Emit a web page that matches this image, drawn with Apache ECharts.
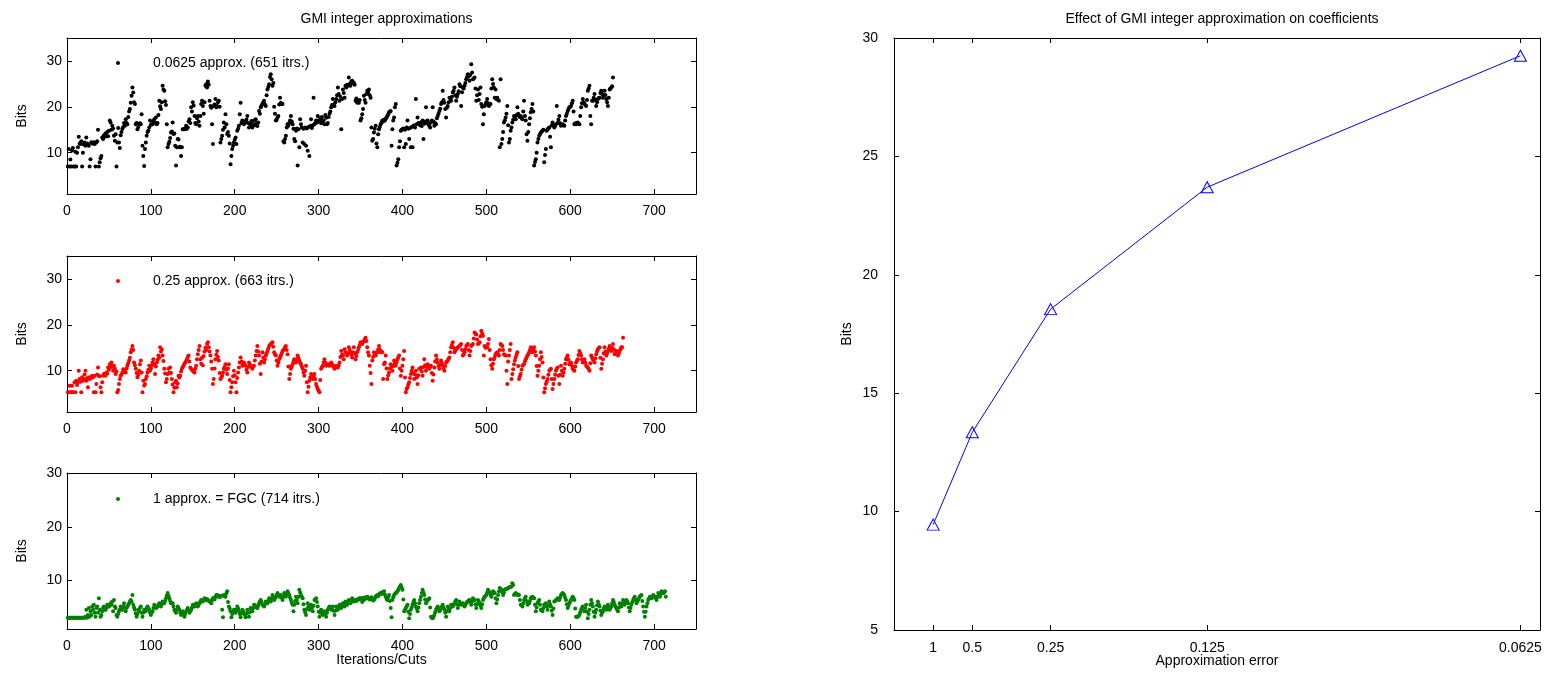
<!DOCTYPE html>
<html>
<head>
<meta charset="utf-8">
<script src="https://cdn.jsdelivr.net/npm/echarts@6/dist/echarts.min.js"></script>
<style>
html,body{margin:0;padding:0;background:#fff;}
#chart{width:1557px;height:687px;}
</style>
</head>
<body>
<div id="chart"></div>
<script>
// ---------------- data ----------------
const leftXTicks = [0,100,200,300,400,500,600,700];
const leftYTicks = [10,20,30];
const rightXPos = [1,2,4,8,16];
const rightXLabels = ['1','0.5','0.25','0.125','0.0625'];
const rightBits = [9.45,13.35,18.55,23.7,29.25];

const name0625 = '0.0625 approx. (651 itrs.)';
const name025 = '0.25 approx. (663 itrs.)';
const name1 = '1 approx. = FGC (714 itrs.)';

const bits0625 = [
7,10.8,7,8.5,7,10.5,11,7,7,10.2,
7,10,11.2,13.5,12,11.9,12.5,7,10,11.8,
12.2,11.5,13.3,12,11.8,11.5,7,8.6,12.3,12,
12,12.3,11.9,7,12.2,12.5,15,7,7.9,8.8,
9.3,13.3,13,13.8,13.5,14.2,13.6,14.5,13.6,14.8,
17,16.6,15,15.9,15.3,13.7,12.6,14,7,12.2,
15.4,12.2,11,13.8,14.5,15.2,15.6,16.5,15.9,17.3,
16.5,16.2,17.8,19,19.5,20.9,22.4,24.2,23.1,21,
20.6,16.2,16.5,15.1,15.6,16.2,16.4,16.2,18.4,11.5,
9.3,7.1,10.8,12.2,13.7,14.5,14.8,15.5,17,16.1,
16.2,16.2,16.8,17.3,16.6,17.7,16.2,16.5,18.2,21.3,
20.1,19.5,21,24.6,23.8,23.5,21.2,20.4,16.2,11.2,
11.9,12.4,13.2,14.4,14.6,16.6,14.1,14.2,11.5,7.2,
11.2,13,12.9,11.2,11.3,9.3,11.2,15.1,15.1,15.2,
15.1,15.9,15.2,15.5,16.8,17.3,16.5,19.9,19,21,
20.3,18,16.5,16.2,17.5,18,16.8,15.9,18,20.6,
21.3,20.2,18.5,21,24.6,24.9,24.2,25.5,24.8,21.3,
20.2,19.8,16.2,11.9,20.2,20.5,21.7,19.9,20.2,21,
21.3,20,12.2,13,13.7,15,16.6,15.5,18.4,16.2,
14.1,14.5,13.7,12,7.5,9.3,10.8,11.5,12.2,12.8,
13.3,11.9,14.8,15.2,15.9,18.4,20.9,16.5,17,16.4,
16.2,16.8,16.6,17.2,18,16.5,15.5,16.3,15.8,16.9,
15.5,16.2,17,16,17.3,16.4,15.8,16.6,19.1,18.5,
19.9,20.3,20.6,21,21.3,20.5,20.2,22.5,23.8,24.3,
24.9,26.5,27.1,26,24.6,25.2,20,18.5,17,17.2,
17.7,18,20.5,22,20.9,20.6,20.6,12.5,12.2,13,
13.7,15.5,16.2,15.9,16.5,17,18,16.8,16.2,15.2,
13,12.5,14.8,15.3,7.2,15.1,11.2,17.3,16.2,15.5,
12.2,15.2,11.9,15.5,11.5,15.3,10.4,15.6,9.3,15.8,
17.3,15.4,16,22,16.2,16.5,17,16.6,18,16.8,
17.2,17.5,16.4,17.8,16.9,17,16.2,18.2,17.6,16.2,
16.5,17.8,18.5,19,19.9,20.4,21.7,20.5,20.2,21,
21.7,22.5,24.2,22.8,21.3,22.2,15.1,21.7,23.8,23,
22,24.6,24.2,24.8,24.6,26.4,25,24.6,25.5,25.7,
25.2,25.3,24.8,21.3,21.8,20.9,21.2,20.9,21.5,17,
17.5,18.4,19.5,22.4,21.5,20.9,22.8,23.5,23.2,23.8,
22.5,22,15.5,12.6,13,14.4,15.2,15.9,12,11.2,
14,15.1,15.6,16.2,16.6,17,16.8,17.2,17,17.4,
17.6,18,18.4,18.8,19,19.1,11.5,15.1,17,17.7,
19.9,20.6,7.2,7.8,8.6,11.2,12.5,14.8,15,15.1,
15.3,11.2,15,11.9,15.5,17,15.2,13,15.4,11.2,
15.6,11.2,15.8,16,15.5,21.7,16.2,17.7,16.5,16.2,
16,16.6,15.8,17,13,16.3,16.8,19.9,16.5,17,
16.2,15.8,15.5,16.6,17,19.9,16.8,15.9,16.5,16.2,
17.5,18,18.5,19.1,19.6,20.6,21,23.5,21.5,20.9,
19.5,17.7,19.8,20.2,21,22,21.8,21.3,22.2,23.1,
23.5,24.2,22.5,21.3,22.2,22.8,23.4,24.9,24.5,20.2,
23.2,24.2,24,24.6,25.2,26,26.5,27.1,26.6,25.7,
27,29.3,27.5,26,26.2,26.4,24,21.3,22.5,23.8,
21.5,22.8,24.2,20.6,20,16.2,18.4,20.2,20.5,21,
21.7,20.8,20.2,20.5,20.6,24,26,25,24.2,22,
23.8,21.7,22,21.5,21.3,11.2,26,11.9,13,14.5,
16.6,17,17.7,18.5,20.2,16,12.2,13,14.8,15.5,
16.6,17.2,18,17.6,17.3,18.2,19.9,18.5,18,17.8,
18,17.6,17.3,19,21.3,18,17,14,12.6,14.5,
16.2,17.5,18.8,19.5,20.6,19,7.2,8,8.6,10,
12.2,13,13.7,14,14.4,14.6,14.8,15,7.9,9.5,
10.8,14.8,15.1,15.3,15.5,13.5,11.2,16,16.6,16,
15.5,15.8,16.2,20.2,16.5,17.2,18,16.4,15.9,16,
16.2,16,15.9,17,18,18.5,19.1,19.5,19.9,20,
20.2,20.8,21.3,19,16.2,16.4,16.2,16.5,16.6,16.3,
16.2,18,19.9,20.8,21.7,21,20.6,20.4,20.2,21.5,
23.5,24,24.6,18,16.2,21.3,21.3,22,22.8,21.5,
20.2,21,21.7,21.9,22,23,23.5,22.8,22,22.5,
23.5,22.6,21.7,21,20.2,22,23.8,24,24.2,24.5,
26.4
];

const bits025 = [
5.3,5.3,6.7,5.3,5.3,6.7,5.3,5.3,7.5,5.3,
7.8,6.9,7.5,10,8.2,7.6,5.3,8.6,7.8,8.2,
9.2,10,7.8,8.4,6.4,8.2,8.6,8.3,8.6,8.9,
8.5,5.3,8.9,5.3,7.1,9.2,10.7,8.9,8.8,6.4,
5.3,7.5,8.9,9.3,9.1,8.9,9.6,9.4,10.7,10.2,
11.4,10.8,11.8,10.9,10,11.1,10.5,9.3,9.8,5.3,
5.8,7.1,8.2,8.9,9.2,9.6,10.3,10,9.8,9.6,
10.5,11.1,11.6,12.2,12.8,14,14.6,15.4,14.5,11.8,
11.2,10.4,9.5,8.6,9.2,10,11.4,12.2,9.6,5.3,
7.8,6.8,7.1,8.2,8.8,9.6,10.2,11.1,10,10.5,
11.1,11.8,12.5,11.4,9.3,10.9,11.8,12.4,13.3,12.8,
15.1,14.2,14.7,13.3,12.1,10.4,9.4,7.5,8.2,9.3,
10.4,9.6,10.7,9.5,8.2,7,5.3,6.3,7.5,7.8,
6.4,7.2,8.9,8.5,8.9,9.8,10.4,10.8,11.1,11.5,
11.8,12.1,12.5,13,13.3,12,10.7,10.4,10.2,10,
9.8,9.6,10.4,11.1,12.5,13.6,14.5,15.4,12.5,11.5,
12.8,11.2,13.2,14.2,15,14.5,15.8,16.2,15.1,14.2,
13.3,12,10.4,7.1,8.2,10.5,12.5,13.5,14.3,13,
12.2,9.5,8.2,8.5,8.9,9.6,10.4,10.8,11.4,10.2,
9.3,10.5,11.4,8,5.3,6.4,7.5,8.8,10,9,
7.5,5.3,8.4,9.6,10.7,11.8,12.9,12,11.1,11.5,
11.8,11.3,11.1,10.2,9.6,10.8,11.8,11.4,11.1,10.8,
10.4,10.9,11.1,12.2,13.3,14.3,15.4,14.2,13.3,11.5,
9.3,12,14,12.8,11.8,12.5,13.3,13.8,14.3,14.8,
15.4,15.6,15.8,16,16.2,15.2,14,13.6,13.3,12.2,
11.1,11.8,12.5,12.9,13.3,13.8,14.3,14.5,14.7,15.1,
15.4,14.5,13.6,10.9,8.2,9.3,10.4,10.9,11.4,12,
12.5,12.2,11.8,12.5,13.3,12.8,12.2,11.8,11.4,10.9,
10.4,9.6,8.9,10,11.1,7.5,5.3,6.5,7.8,8.5,
9.3,8.8,8.2,8.8,9.3,8.2,7.1,6.5,6,5.7,
5.3,8,10.4,10.8,11.1,11.8,12.5,11.8,11.1,11.2,
11.4,11.2,11.1,11.5,11.8,11.4,11.1,10.8,10.4,10.8,
11.1,10.9,10.7,11.2,11.8,13,14.3,13.5,13.3,12.5,
14.7,14,13.8,13.3,13.8,15.1,14.5,14,13.5,12.9,
14,15.1,13.8,12.5,13.2,14,14.5,15.1,15.6,16.2,
15.9,15.8,16.2,16.5,16.8,17.2,16.5,15.1,14,13.3,
11.1,9.5,7.1,12.2,13,14,13.6,13.3,13.8,14,
14.6,15.4,14.6,14,14.2,14,8.2,11.4,11.8,13.3,
10.5,8.2,9,9.6,10.5,11.4,10.8,10,11,12.2,
11.6,11.1,11.8,12.5,12.9,13.3,10.5,8.9,10,11.1,
12.5,14.3,8.5,5.3,6,6.4,7,7.5,8.4,9.3,
10,10.7,9.4,8.2,9.2,10,8.5,7.1,9,10.4,
10.5,10.7,9.8,8.9,10.8,12.5,11.2,10,10.8,11.4,
10.9,10.4,10.8,11.1,9.5,7.8,9.2,10.7,12,13.3,
12.5,11.8,11,10.4,11.3,12.2,11.6,11.1,10.5,10,
11,11.8,12,12.2,12.6,12.9,14,15.1,15.6,16.2,
15,14,14.4,14.7,14.9,15.1,15.2,15.4,15.6,15.8,
14.5,13.3,13.6,14,14.7,15.4,15.6,15.8,14.5,13.3,
14.3,15.4,15.6,15.8,17,18.3,18,17.9,16.8,15.8,
16,16.2,17.5,18.7,18.1,17.6,13.3,15.4,15,15.1,
15.1,15.8,16.9,14.5,12.5,11.2,10.4,11.5,12.5,13,
13.6,13.8,14,13.6,13.3,14.5,15.8,15.6,15.4,14.5,
13.6,13.4,13.3,10,7.1,12,13.3,14.5,15.8,8.2,
9.3,10.3,11.4,12.2,12.9,13.5,14,11,8.2,8.8,
9.3,10.2,11.1,11.3,11.4,12,12.5,12.9,13.3,13.6,
14,14.5,15.1,14.5,14,14.5,15.1,14.2,13.3,11,
8.9,10,11.1,12.5,14,13,11.8,8.5,5.3,6.2,
7.1,7.6,8.2,9.1,10,10.2,10.4,8.2,6,7.1,
8.2,9.1,10,10.4,10.7,8.9,7.1,9.1,11.1,10,
8.9,9.6,10.4,11.5,12.5,12.9,13.3,12.4,11.4,11.6,
11.8,11.1,10.4,10.2,10,10.9,11.8,12.1,12.5,13.4,
14.3,13.8,13.3,12.5,11.8,12.2,12.5,11.8,11.1,10.9,
10.7,10.4,10,11.6,13.3,12.9,12.5,12.2,11.8,12.7,
13.6,14.2,14.7,14.9,15.1,12.8,10.4,11.5,12.5,13.8,
15.1,14.2,13.3,13.8,14.3,14.8,15.4,14.8,14.3,15,
15.8,14.7,13.6,14,14.3,13.8,13.3,13.8,14.3,14.7,
15.1,15.1,17.2
];

const bits1 = [
3.1,3.1,3.1,3.1,3.1,3.1,3.1,3.1,3.1,3.1,
3.1,3.1,3.1,3.1,3.1,3.1,3.1,3.1,3.1,3.1,
3.1,3.3,4.6,3.1,3.6,4.9,3.3,4.3,3.6,5.2,
4.6,5.5,4,3.3,4.9,5.2,4,6.7,4.6,3.3,
3.6,4.3,4.9,5.2,4.6,4.6,5,5.5,5.2,5.2,
5.5,5.8,5.5,6.1,4.3,6.4,5.2,4.9,3.6,3.3,
3.8,4.3,4.6,5.2,4.9,4.6,5.2,5.8,5,4.3,
4.9,5.2,5.5,5.8,6.1,6.4,6.1,7.3,5.5,5,
4.6,3.9,3.3,3.8,4.6,4.3,4.9,5.2,4,3.3,
4,4.6,4.5,4.3,4.9,5.2,4.9,4.6,4,3.6,
4,4.3,4.9,5.5,5.2,4.9,5,5.2,5.5,5.8,
5.5,5.2,5.6,6.1,5.9,5.8,6.2,6.7,7.2,7.7,
7.2,6.7,6.2,5.8,5.8,5.8,5.2,4.6,4.3,4,
4.6,5.2,4.9,4.6,4,3.6,4,4.3,3.8,3.3,
3.8,4.3,4.6,4.9,4.4,4,4.3,4.6,5,5.5,
5.3,5.2,5.5,5.8,5.5,5.2,5.5,5.8,6.1,6.4,
6.2,6.1,6.4,6.7,6.5,6.4,6.6,6.4,6.2,6.1,
6.1,5.8,6.4,6.7,6.7,6.5,7,7.3,7.3,7,
7.2,7,7,7.2,4.6,3.2,7.3,7.1,7,7.6,
8,6,5.2,4.8,4.3,3.2,3.8,4.2,4.6,4.3,
4,4.6,5.2,4.8,4.3,3.8,3.2,3.9,4.6,4.3,
4,3.6,3.2,3.9,4.6,4,3.3,4.1,4.9,4.6,
4.3,4.9,5.5,5.4,5.2,5,4.9,5.3,5.8,6.1,
6.4,6,5.5,5.4,5.2,5.6,6.1,6,5.8,6.2,
6.7,6.4,6.1,6.7,7.3,6.8,6.4,6.7,7,7.3,
7.7,7.3,7,7.2,7.3,6.8,6.4,7,7.7,7.3,
7,7.5,8,7.6,7.3,6.8,6.4,5.9,5.5,4.3,
5.5,6.2,7,6.4,5.8,7,8.3,7.8,7.3,7,
6.7,5.6,4.6,4.1,3.6,4.7,5.8,5.2,4.6,5,
5.5,4.9,4.3,5.3,6.4,6.5,6.7,6,5.2,4.2,
3.3,4,4.6,4.1,3.6,4,4.3,3.8,3.3,4,
4.6,4.9,5.2,4.9,4.6,4.9,5.2,4.4,3.6,4.4,
5.2,4.9,4.6,5,5.5,5.2,4.9,5.3,5.8,5.5,
5.2,6.1,5.8,5.5,6,6.4,6.1,5.8,6.2,6.7,
6.4,6.1,6.3,6.4,6.2,6.4,6.6,6.5,6.7,6.7,
6.5,6,6.8,6.4,6.6,6.9,6.7,7,6.8,6.6,
6.5,6.7,6.9,6.6,6.3,6.4,6.7,7,7.2,7.3,
7.1,7.4,7.6,7.7,7.5,7.8,7.9,8,7.4,7,
6.6,6.4,6.9,7.3,6.2,4.9,3.2,6.4,6.9,7.3,
7.5,7.7,7.8,8,8.3,8.6,8.9,9.2,8.7,8.3,
6.5,4.3,4.6,4.9,5.2,5.5,4.2,3,3.8,4.6,
5,5.5,6,6.4,5.8,5.2,4.8,4.3,5,5.8,
6.4,7,7.7,8.3,7.8,7.3,6.5,5.8,6.1,6.4,
6.5,6.7,5,3.3,3.1,3,3.3,3.6,4.1,4.6,
4.9,5.2,4.8,4.3,4.6,4.9,5.2,5.5,5,4.6,
4,3.3,4.3,5.2,4.8,4.3,4.9,5.5,5.3,5.2,
5.5,5.8,6.1,6.4,5.6,4.9,5.5,6.1,5.8,5.5,
5.6,5.8,5.5,5.2,5.5,5.8,6,6.1,6.3,6.4,
6,5.5,6.1,6.7,6.5,6.4,5.6,4.9,5.6,6.4,
6.1,5.8,5.3,4.9,5.6,6.4,6.7,7,7.2,7.3,
7.8,8.3,8,7.7,7.3,7,7.5,8,7.8,7.7,
6.7,5.8,6.5,7.3,8,8.6,8.5,8.3,7.8,7.3,
7.8,8.3,8.4,8.5,8.5,8.6,8.7,8.8,8.8,8.9,
9.5,9.2,7.3,7.5,7.7,7.5,7.3,7.4,7.3,6.4,
5.5,5.4,5.2,5.8,6.4,6.7,7,6.2,5.5,5.7,
5.8,6.2,6.7,6.9,7,6.8,6.7,5.5,4.3,5,
5.8,6.1,6.4,5.5,4.6,4.5,4.3,4.9,5.5,5.6,
5.8,5.2,4.6,5.3,6.1,5.6,5.2,4.4,3.6,4.8,
6.1,6.2,6.4,6.5,6.7,6.5,6.4,6.8,7.3,7.5,
7.7,7.5,7.3,6.8,6.4,5.6,4.9,5.3,5.8,6.1,
6.4,6.7,7,6.7,6.4,4.8,3.3,3.3,3.3,3.4,
3.6,4.1,4.6,4.9,5.2,4.7,4.3,4.9,5.5,4.2,
3,3.8,4.6,5.5,6.4,5.8,5.2,4.2,3.3,4,
4.6,5.4,6.1,5.6,5.2,4.4,3.6,4,4.3,4.8,
5.2,4.9,4.6,5,5.5,5,4.6,4.9,5.2,5.8,
6.4,6,5.5,5.2,4.9,4.6,4.3,5,5.8,5.5,
5.2,5.8,6.4,6,5.5,6,6.4,6.1,5.8,5,
4.3,4.9,5.5,6,6.4,6.7,7,6.4,5.8,6.1,
6.4,6.7,7,7.2,7.3,6.2,5.2,4.2,3.3,4.2,
5.2,5.8,6.4,6.7,7,6.8,6.7,7,7.3,7.1,
7,6.7,6.4,7,7.7,7.3,7,7.5,8,7.8,
7.7,7.8,8,7
];

// ---------------- chart ----------------
const FONT = '"Liberation Sans", Arial, Helvetica, sans-serif';
const BLACK = '#000';

const grids = [
  {left: 67, top: 38, width: 629, height: 156},
  {left: 67, top: 256, width: 629, height: 156},
  {left: 67, top: 473, width: 629, height: 156},
  {left: 894, top: 38, width: 646, height: 592}
];

function axisBase(gridIndex, min, max, ticks, position, showLabel, formatter, margin) {
  return {
    type: 'value', gridIndex, min, max, position,
    axisLine: {show: true, onZero: false, lineStyle: {color: BLACK, width: 1}},
    axisTick: {show: true, inside: true, length: 5, lineStyle: {color: BLACK, width: 1}, customValues: ticks},
    axisLabel: {show: showLabel, customValues: ticks, color: BLACK, fontSize: 14, fontFamily: FONT, margin: margin,
                formatter: formatter || (v => String(v))},
    splitLine: {show: false}
  };
}

const rightXFmt = v => { const k = rightXPos.indexOf(v); return k >= 0 ? rightXLabels[k] : ''; };

const xAxes = [
  axisBase(0, 0, 750, leftXTicks, 'bottom', true, null, 10),
  axisBase(1, 0, 750, leftXTicks, 'bottom', true, null, 10),
  Object.assign(axisBase(2, 0, 750, leftXTicks, 'bottom', true, null, 10),
    {name: 'Iterations/Cuts', nameLocation: 'middle', nameGap: 24, nameMoveOverlap: false,
     nameTextStyle: {color: BLACK, fontSize: 14, fontFamily: FONT}}),
  Object.assign(axisBase(3, 0, 16.5, rightXPos, 'bottom', true, rightXFmt, 11),
    {name: 'Approximation error', nameLocation: 'middle', nameGap: 24, nameMoveOverlap: false,
     nameTextStyle: {color: BLACK, fontSize: 14, fontFamily: FONT}}),
  axisBase(0, 0, 750, leftXTicks, 'top', false),
  axisBase(1, 0, 750, leftXTicks, 'top', false),
  axisBase(2, 0, 750, leftXTicks, 'top', false),
  axisBase(3, 0, 16.5, rightXPos, 'top', false)
];

const bitsName = {name: 'Bits', nameLocation: 'middle', nameRotate: 90, nameGap: 38,
  nameTextStyle: {color: BLACK, fontSize: 14, fontFamily: FONT}};

const rightYTicks = [5,10,15,20,25,30];
const yAxes = [
  Object.assign(axisBase(0, 1, 35, leftYTicks, 'left', true, null, 5), bitsName),
  Object.assign(axisBase(1, 1, 35, leftYTicks, 'left', true, null, 5), bitsName),
  Object.assign(axisBase(2, 1, 30, leftYTicks, 'left', true, null, 5), bitsName),
  Object.assign(axisBase(3, 5, 30, rightYTicks, 'left', true, null, 16), bitsName, {nameGap: 40}),
  axisBase(0, 1, 35, leftYTicks, 'right', false),
  axisBase(1, 1, 35, leftYTicks, 'right', false),
  axisBase(2, 1, 30, leftYTicks, 'right', false),
  axisBase(3, 5, 30, rightYTicks, 'right', false)
];

function scatter(name, vals, idx, color) {
  return {
    name, type: 'scatter', xAxisIndex: idx, yAxisIndex: idx,
    data: vals.map((v, i) => [i + 1, v]),
    symbol: 'circle', symbolSize: 4,
    itemStyle: {color: color, opacity: 1},
    emphasis: {disabled: true}, silent: true
  };
}

function legendFor(name, top) {
  return {
    data: [name], left: 111, top: top, orient: 'horizontal',
    icon: 'circle', itemWidth: 60, itemHeight: 4, itemGap: 0,
    selectedMode: false, symbolKeepAspect: true,
    textStyle: {color: BLACK, fontSize: 14, fontFamily: FONT}
  };
}

const option = {
  animation: false,
  backgroundColor: '#fff',
  title: [
    {text: 'GMI integer approximations', left: 381.5, top: 7, textAlign: 'center',
     textStyle: {color: BLACK, fontSize: 14, fontWeight: 'normal', fontFamily: FONT}},
    {text: 'Effect of GMI integer approximation on coefficients', left: 1217, top: 7, textAlign: 'center',
     textStyle: {color: BLACK, fontSize: 14, fontWeight: 'normal', fontFamily: FONT}}
  ],
  legend: [legendFor(name0625, 51), legendFor(name025, 269), legendFor(name1, 487)],
  grid: grids,
  xAxis: xAxes,
  yAxis: yAxes,
  series: [
    scatter(name0625, bits0625, 0, '#000000'),
    scatter(name025, bits025, 1, '#ff0000'),
    scatter(name1, bits1, 2, '#008000'),
    {
      name: 'effect', type: 'line', xAxisIndex: 3, yAxisIndex: 3,
      data: rightXPos.map((x, i) => [x, rightBits[i]]),
      symbol: 'triangle', symbolSize: [12, 11], showAllSymbol: true,
      lineStyle: {color: '#0000ff', width: 1},
      itemStyle: {color: 'rgba(0,0,0,0)', borderColor: '#0000ff', borderWidth: 1},
      emphasis: {disabled: true}, silent: true
    }
  ]
};

const chart = echarts.init(document.getElementById('chart'), null, {renderer: 'canvas', width: 1557, height: 687});
chart.setOption(option);
</script>
</body>
</html>
